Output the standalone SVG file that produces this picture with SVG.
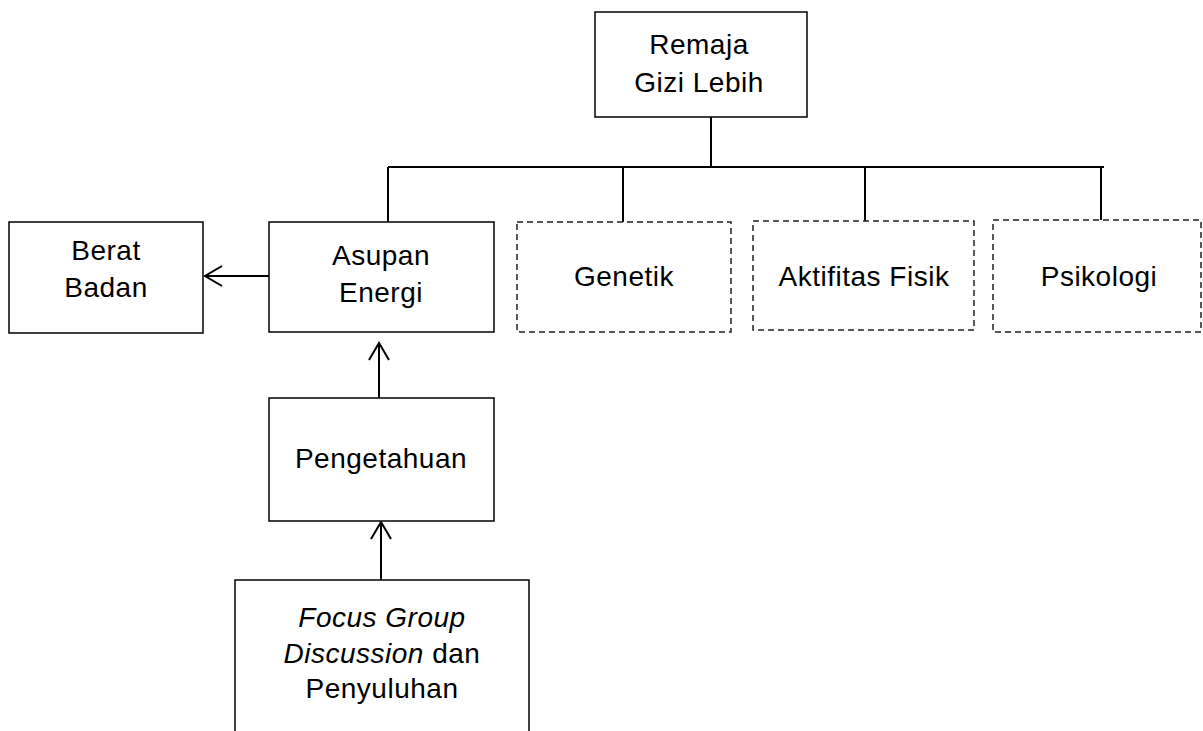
<svg xmlns="http://www.w3.org/2000/svg" width="1203" height="731" viewBox="0 0 1203 731">
<style>
.box{fill:#fff;stroke:#000;stroke-width:1.5}
.dbox{fill:#fff;stroke:#222;stroke-width:1.5;stroke-dasharray:6 4}
.ln{fill:none;stroke:#000;stroke-width:2}
text{font-family:"Liberation Sans",Arial,sans-serif;font-size:28px;fill:#000;text-anchor:middle;letter-spacing:0.5px}
.it{font-style:italic}
</style>
<defs>
<marker id="arr" markerUnits="userSpaceOnUse" markerWidth="24" markerHeight="24" refX="18" refY="11" orient="auto">
<path d="M1,1 L18,11 L1,21" fill="none" stroke="#000" stroke-width="2"/>
</marker>
</defs>
<g id="connectors">
<line class="ln" x1="711" y1="117" x2="711" y2="167"/>
<line class="ln" x1="388" y1="167" x2="1104" y2="167"/>
<line class="ln" x1="388" y1="167" x2="388" y2="222"/>
<line class="ln" x1="623" y1="167" x2="623" y2="222"/>
<line class="ln" x1="865" y1="167" x2="865" y2="221"/>
<line class="ln" x1="1101" y1="167" x2="1101" y2="220"/>
<line class="ln" x1="269" y1="276" x2="205" y2="276" marker-end="url(#arr)"/>
<line class="ln" x1="379" y1="398" x2="379" y2="343" marker-end="url(#arr)"/>
<line class="ln" x1="381" y1="580" x2="381" y2="522" marker-end="url(#arr)"/>
</g>
<g id="remaja">
<rect class="box" x="595" y="12" width="212" height="105"/>
<text x="699" y="54">Remaja</text>
<text x="699" y="92">Gizi Lebih</text>
</g>
<g id="berat">
<rect class="box" x="9" y="222" width="194" height="111"/>
<text x="106" y="260">Berat</text>
<text x="106" y="297">Badan</text>
</g>
<g id="asupan">
<rect class="box" x="269" y="222" width="225" height="110"/>
<text x="381" y="265">Asupan</text>
<text x="381" y="302">Energi</text>
</g>
<g id="genetik">
<rect class="dbox" x="517" y="222" width="214" height="110"/>
<text x="624" y="286">Genetik</text>
</g>
<g id="aktifitas">
<rect class="dbox" x="753" y="221" width="221" height="109"/>
<text x="864" y="286">Aktifitas Fisik</text>
</g>
<g id="psikologi">
<rect class="dbox" x="993" y="220" width="208" height="112"/>
<text x="1099" y="286">Psikologi</text>
</g>
<g id="pengetahuan">
<rect class="box" x="269" y="398" width="225" height="123"/>
<text x="381" y="468">Pengetahuan</text>
</g>
<g id="fgd">
<rect class="box" x="235" y="580" width="294" height="160"/>
<text x="382" y="627" class="it">Focus Group</text>
<text x="382" y="663"><tspan class="it">Discussion</tspan> dan</text>
<text x="382" y="698">Penyuluhan</text>
</g>
</svg>
